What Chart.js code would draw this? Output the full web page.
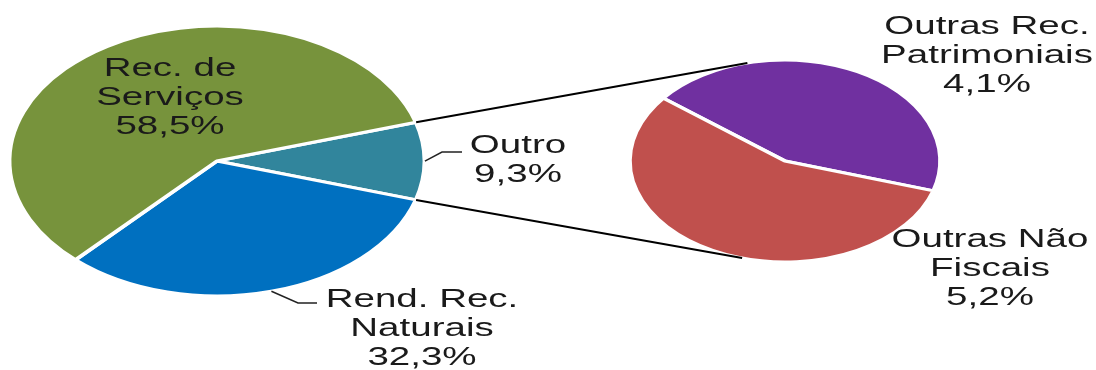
<!DOCTYPE html>
<html>
<head>
<meta charset="utf-8">
<script src="https://cdn.jsdelivr.net/npm/chart.js@4.4.1/dist/chart.umd.min.js"></script>
<style>
  body { margin: 0; background: #fff; }
  #wrap { position: relative; width: 1096px; height: 370px; }
  #wrap canvas { position: absolute; left: 0; top: 0; }
</style>
</head>
<body>
<div id="wrap">
  <canvas id="main" width="1096" height="370"></canvas>
  <canvas id="detail" width="1096" height="370"></canvas>
</div>
<script>
// main pie
const categories = ['Outro', 'Rend. Rec. Naturais', 'Rec. de Serviços'];
const values = [9.3, 32.3, 58.5];
const colors = ['#31859C', '#0070C0', '#77933C'];

// breakdown of "Outro"
const subCategories = ['Outras Rec. Patrimoniais', 'Outras Não Fiscais'];
const subValues = [4.1, 5.2];
const subColors = ['#7030A0', '#C0504D'];

// the picture is stretched sideways
const SX = 1.54;
const FONT = '25px "Liberation Sans", Arial, sans-serif';
const TEXT = '#1a1a1a';

// label anchors: centre x, first baseline y
const mainLabels = [
  { x: 518, y: 153, leader: [[442, 152], [462, 152]] },
  { x: 422, y: 307, leader: [[298, 303], [317, 303]] },
  { x: 170, y: 76 }
];
const subLabels = [
  { x: 987, y: 34 },
  { x: 990, y: 247 }
];

function fmt(v) {
  return v.toFixed(1).replace('.', ',') + '%';
}

function wrap(ctx, text, maxW) {
  const words = text.split(' ');
  const lines = [];
  let cur = '';
  words.forEach(w => {
    const t = cur ? cur + ' ' + w : w;
    if (cur && ctx.measureText(t).width > maxW) {
      lines.push(cur);
      cur = w;
    } else {
      cur = t;
    }
  });
  if (cur) lines.push(cur);
  return lines;
}

function drawLabel(ctx, name, value, pos) {
  ctx.font = FONT;
  const lines = wrap(ctx, name, 140).concat([fmt(value)]);
  ctx.fillStyle = TEXT;
  ctx.textAlign = 'center';
  ctx.textBaseline = 'alphabetic';
  lines.forEach((line, i) => {
    ctx.save();
    ctx.translate(pos.x, pos.y + i * 29);
    ctx.scale(SX, 1);
    ctx.fillText(line, 0, 0);
    ctx.restore();
  });
}

function edgePoint(arc, angle) {
  return [arc.x + SX * arc.outerRadius * Math.cos(angle), arc.y + arc.outerRadius * Math.sin(angle)];
}

// squash the circle into an ellipse
const stretch = {
  id: 'stretch',
  beforeDatasetsDraw(chart) {
    const arc = chart.getDatasetMeta(0).data[0];
    const ctx = chart.ctx;
    ctx.save();
    ctx.translate(arc.x, 0);
    ctx.scale(SX, 1);
    ctx.translate(-arc.x, 0);
  },
  afterDatasetsDraw(chart) {
    chart.ctx.restore();
  }
};

function pieOptions(rotation, radius, padding) {
  return {
    responsive: false,
    animation: false,
    rotation: rotation,
    radius: radius,
    layout: { padding: padding },
    events: [],
    plugins: {
      legend: { display: false },
      tooltip: { enabled: false }
    }
  };
}

const mainChart = new Chart(document.getElementById('main'), {
  type: 'pie',
  data: {
    labels: categories,
    datasets: [{
      data: values,
      backgroundColor: colors,
      borderColor: '#fff',
      borderWidth: 3,
      clip: false
    }]
  },
  options: pieOptions(73.3, 135, { left: 67, right: 729, top: 11, bottom: 59 }),
  plugins: [stretch]
});

const overlay = {
  id: 'overlay',
  afterDraw(chart) {
    const ctx = chart.ctx;
    const mainArcs = mainChart.getDatasetMeta(0).data;
    const subArcs = chart.getDatasetMeta(0).data;

    // connectors from "Outro" to the second pie
    const outro = mainArcs[0];
    const sub = subArcs[0];
    const a1 = edgePoint(outro, outro.startAngle);
    const a2 = edgePoint(outro, outro.endAngle);
    const b1 = edgePoint(sub, -104 * Math.PI / 180);
    const b2 = edgePoint(sub, 106 * Math.PI / 180);
    ctx.save();
    ctx.strokeStyle = '#000';
    ctx.lineWidth = 2;
    ctx.beginPath();
    ctx.moveTo(a1[0], a1[1]);
    ctx.lineTo(b1[0], b1[1]);
    ctx.moveTo(a2[0], a2[1]);
    ctx.lineTo(b2[0], b2[1]);
    ctx.stroke();

    // leader lines
    ctx.strokeStyle = '#222';
    ctx.lineWidth = 1.5;
    mainLabels.forEach((lab, i) => {
      if (!lab.leader) return;
      const arc = mainArcs[i];
      const p = edgePoint(arc, (arc.startAngle + arc.endAngle) / 2);
      ctx.beginPath();
      ctx.moveTo(p[0], p[1]);
      lab.leader.forEach(q => ctx.lineTo(q[0], q[1]));
      ctx.stroke();
    });
    ctx.restore();

    categories.forEach((c, i) => drawLabel(ctx, c, values[i], mainLabels[i]));
    subCategories.forEach((c, i) => drawLabel(ctx, c, subValues[i], subLabels[i]));
  }
};

new Chart(document.getElementById('detail'), {
  type: 'pie',
  data: {
    labels: subCategories,
    datasets: [{
      data: subValues,
      backgroundColor: subColors,
      borderColor: '#fff',
      borderWidth: 3,
      clip: false
    }]
  },
  options: pieOptions(-51.5, 101, { left: 665, right: 191, top: 41, bottom: 89 }),
  plugins: [stretch, overlay]
});
</script>
</body>
</html>
